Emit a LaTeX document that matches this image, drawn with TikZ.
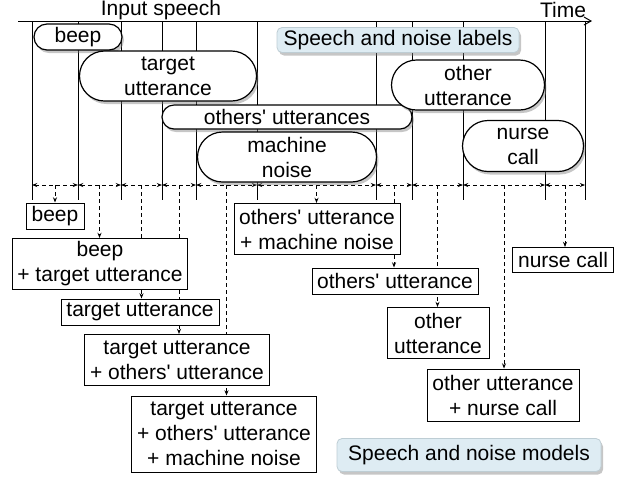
\documentclass[tikz,border=0pt]{standalone}
\usepackage{fontspec}
\setmainfont{Liberation Sans}
\usepackage{tikz}
\usetikzlibrary{
  arrows.meta,
  calc,
  shapes.misc,
  shadows,
  backgrounds
}
\definecolor{paleblue}{RGB}{222,236,243}
\definecolor{paleedge}{RGB}{190,205,212}
\newcommand{\apos}{\textquotesingle}

\begin{document}
\begin{tikzpicture}[x=0.5pt, y=-0.5pt,
  every node/.style={font=\fontsize{10.5}{12.5}\selectfont, align=center, inner sep=0pt},
  seglabel/.style={rounded rectangle, draw=black, fill=white, line width=0.6pt,
    drop shadow={opacity=0.45, shadow xshift=1pt, shadow yshift=-1.5pt}},
  model/.style={rectangle, draw=black, fill=white, line width=0.5pt},
  caption/.style={rectangle, rounded corners=2.5pt, draw=paleedge, fill=paleblue, line width=0.4pt,
    drop shadow={opacity=0.45, shadow xshift=1pt, shadow yshift=-1.5pt}},
  tick/.style={line width=0.5pt},
  span/.style={line width=0.45pt, dash pattern=on 2pt off 1.5pt, {Stealth[length=2.6pt,width=2pt]}-{Stealth[length=2.6pt,width=2pt]}},
  feed/.style={line width=0.45pt, dash pattern=on 2pt off 1.5pt, -{Stealth[length=2.6pt,width=2pt]}}
]
  \useasboundingbox (0,0) rectangle (630,479);

  % time axis
  \coordinate (axisL) at (18,21);
  \coordinate (axisR) at (592,21);
  \node (insp) at (161,10.5) {Input speech};
  \node (time) at (563,10) {Time};

  % segment labels
  \node[seglabel, minimum width=44pt, minimum height=13pt] (lbeep) at (78,37) {beep};
  \node[seglabel, minimum width=88.5pt, minimum height=25pt] (ltarget) at (168,76) {target\\utterance};
  \node[seglabel, minimum width=125pt, minimum height=12pt] (lothers) at (287,117) {others\apos{} utterances};
  \node[seglabel, minimum width=89.5pt, minimum height=25pt] (lmachine) at (287,157) {machine\\noise};
  \node[seglabel, minimum width=76.5pt, minimum height=25pt] (lother) at (468,85) {other\\utterance};
  \node[seglabel, minimum width=60.5pt, minimum height=25.5pt] (lnurse) at (523,146) {nurse\\call};
  \node[caption, minimum width=121pt, minimum height=12.5pt] (labcap) at (398,40) {Speech and noise labels};

  % models
  \node[model, minimum width=29pt, minimum height=13pt] (mbeep) at (55,216) {beep};
  \node[model, minimum width=87.5pt, minimum height=25.5pt] (mbt) at (100,264) {beep\\+ target utterance};
  \node[model, minimum width=79pt, minimum height=13pt] (mt) at (140,312) {target utterance};
  \node[model, minimum width=92.5pt, minimum height=25.5pt] (mto) at (177,360) {target utterance\\+ others\apos{} utterance};
  \node[model, minimum width=92.5pt, minimum height=38pt] (mtom) at (224,434) {target utterance\\+ others\apos{} utterance\\+ machine noise};
  \node[model, minimum width=83pt, minimum height=25.5pt] (mom) at (317,229) {others\apos{} utterance\\+ machine noise};
  \node[model, minimum width=83pt, minimum height=13pt] (mo) at (395,281) {others\apos{} utterance};
  \node[model, minimum width=51pt, minimum height=25.5pt] (mother) at (438,333) {other\\utterance};
  \node[model, minimum width=76pt, minimum height=26pt] (mon) at (503,395) {other utterance\\+ nurse call};
  \node[model, minimum width=50.5pt, minimum height=12.5pt] (mnurse) at (563,260) {nurse call};
  \node[caption, minimum width=132pt, minimum height=16.5pt] (modcap) at (469,455) {Speech and noise models};

  \begin{scope}[on background layer]
    \draw[tick, -{Straight Barb[length=3.5pt,width=4pt]}] (axisL) -- (axisR);
    % segment boundaries
    \foreach \t [count=\i from 0] in {32,78,121,162,196,257,376,412,463,545,585} {
      \coordinate (top\i) at (\t,21);
      \coordinate (row\i) at (\t,185);
      \coordinate (bot\i) at (\t,200);
      \draw[tick] (top\i) -- (bot\i);
    }
    % intervals and the model each one feeds
    \foreach \i/\m in {0/mbeep,1/mbt,2/mt,3/mto,4/mtom,5/mom,6/mo,7/mother,8/mon,9/mnurse} {
      \pgfmathtruncatemacro{\j}{\i+1}
      \draw[span] (row\i) -- (row\j);
      \coordinate (mid\i) at ($(row\i)!0.5!(row\j)$);
      \draw[feed] (mid\i) -- (mid\i |- \m.north);
    }
  \end{scope}
\end{tikzpicture}
\end{document}
